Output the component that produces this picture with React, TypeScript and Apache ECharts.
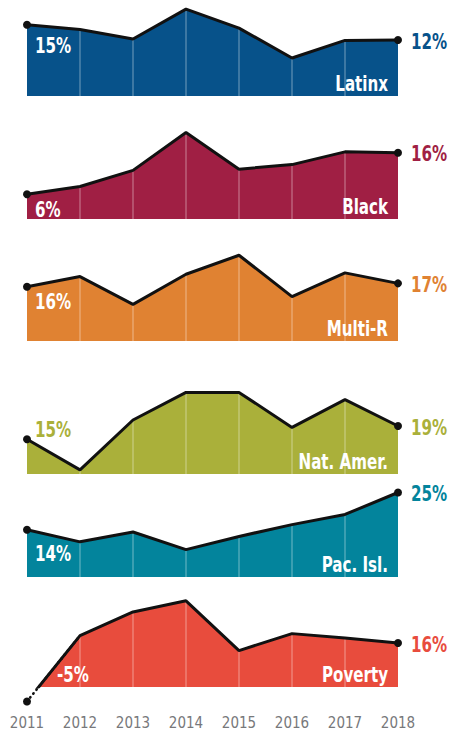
import React, { useEffect, useRef } from 'react';
import * as echarts from 'echarts';

const years = ['2011', '2012', '2013', '2014', '2015', '2016', '2017', '2018'];
const latinx = [15, 14, 12, 18.3, 14.3, 8, 11.7, 11.8];
const black = [6, 7.9, 11.8, 21, 12.1, 13.2, 16.3, 16.1];
const multiR = [16, 19, 10.8, 19.7, 25.3, 13.1, 20.1, 17];
const natAmer = [14.5, 1.7, 22.5, 34, 34, 19.4, 31, 20];
const pacIsl = [14, 10.4, 13.3, 8.1, 12, 15.5, 18.5, 25];
const poverty = [-5.2, 18.5, 27, 31, 13.1, 19.2, 17.6, 15.8];
const names = ['Latinx', 'Black', 'Multi-R', 'Nat. Amer.', 'Pac. Isl.', 'Poverty'];
const startLabels = ['15%', '6%', '16%', '15%', '14%', '-5%'];
const endLabels = ['12%', '16%', '17%', '19%', '25%', '16%'];
const seriesValues = [latinx, black, multiR, natAmer, pacIsl, poverty];

// layout / style
const colors = ['#07528a', '#a01f44', '#e08232', '#aab03a', '#03849c', '#e84c3d'];
const baselines = [96, 219, 341, 474, 577, 687];
const scales = [4.75, 4.12, 3.39, 2.4, 3.38, 2.78];
const startOffsets = [[8, 21], [8, 15], [8, 15], [8, -10], [8, 24], [30, -27]];
const startInside = [true, true, true, false, true, true];
const LEFT = 27;
const RIGHT = 63;
const H = 92;
const FONT = '"DejaVu Sans Condensed", "Liberation Sans Narrow", sans-serif';
const SQUEEZE = 0.8;

export default function App() {
  const ref = useRef<HTMLDivElement>(null);
  useEffect(() => {
    if (!ref.current) return;
    const chart = echarts.init(ref.current, undefined, { renderer: 'svg' });
    const grids: any[] = [];
    const xAxes: any[] = [];
    const yAxes: any[] = [];
    const series: any[] = [];
    const n = years.length;
    const endsOnly = (vals: number[]) =>
      vals.map((v, j) => (j === 0 || j === n - 1 ? { value: v, symbol: 'circle' } : { value: v, symbol: 'none' }));

    seriesValues.forEach((vals, i) => {
      grids.push({ left: LEFT, right: RIGHT, top: baselines[i] - H, height: H, outerBoundsMode: 'none' });
      xAxes.push({ type: 'category', gridIndex: i, data: years, boundaryGap: false, show: false });
      yAxes.push({ type: 'value', gridIndex: i, min: 0, max: H / scales[i], show: false });
      const isPov = i === 5;
      // area
      series.push({
        type: 'line',
        xAxisIndex: i,
        yAxisIndex: i,
        data: vals,
        symbol: 'none',
        lineStyle: { width: 0 },
        areaStyle: { color: colors[i], opacity: 1 },
        clip: true,
        silent: true,
        z: 1,
      });
      // vertical light lines
      series.push({
        type: 'bar',
        xAxisIndex: i,
        yAxisIndex: i,
        data: vals.map((v, j) => (j === 0 || j === n - 1 ? '-' : v)),
        barWidth: 2,
        itemStyle: { color: 'rgba(255,255,255,0.22)' },
        silent: true,
        z: 2,
      });
      // black line
      series.push({
        type: 'line',
        xAxisIndex: i,
        yAxisIndex: i,
        data: isPov ? vals : endsOnly(vals),
        symbol: 'none',
        symbolSize: 8,
        itemStyle: { color: '#111' },
        lineStyle: { color: '#111', width: 3 },
        clip: isPov,
        silent: true,
        z: 4,
      });
    });

    // extra grid for poverty dotted extension (below zero), end dots & x axis labels
    const pi = 5;
    const yMinP = -6;
    grids.push({
      left: LEFT,
      right: RIGHT,
      top: baselines[pi] - H,
      height: H - yMinP * scales[pi],
      outerBoundsMode: 'none',
    });
    xAxes.push({
      type: 'category',
      gridIndex: 6,
      data: years,
      boundaryGap: false,
      axisLine: { show: false },
      axisTick: { show: false },
      splitLine: { show: false },
      axisLabel: { color: '#77787b', fontFamily: FONT, fontSize: 15, lineHeight: 14, margin: 12 },
    });
    yAxes.push({ type: 'value', gridIndex: 6, min: yMinP, max: H / scales[pi], show: false });
    series.push({
      type: 'line',
      xAxisIndex: 6,
      yAxisIndex: 6,
      data: poverty.map((v, j) => {
        if (j === 0 || j === n - 1) return { value: v, symbol: 'circle' };
        if (j === 1) return { value: v, symbol: 'none' };
        return '-';
      }),
      symbolSize: 8,
      itemStyle: { color: '#111' },
      lineStyle: { color: '#111', width: 2.6, type: [0.5, 4.5], cap: 'round' },
      clip: false,
      silent: true,
      z: 3,
    });

    chart.setOption({
      animation: false,
      grid: grids,
      xAxis: xAxes,
      yAxis: yAxes,
      series,
    });

    // text annotations, placed through the chart's own coordinate system
    const graphics: any[] = [];
    const txt = (text: string, x: number, y: number, fill: string, align: string) => ({
      type: 'text',
      x,
      y,
      scaleX: SQUEEZE,
      z: 10,
      silent: true,
      style: {
        text,
        fill,
        font: `bold 21px ${FONT}`,
        align,
        verticalAlign: 'middle',
        textAlign: align,
        textVerticalAlign: 'middle',
      },
    });
    seriesValues.forEach((vals, i) => {
      const gi = i === 5 ? 6 : i;
      const p0 = chart.convertToPixel({ gridIndex: gi }, [0, vals[0]]) as number[];
      const p1 = chart.convertToPixel({ gridIndex: gi }, [n - 1, vals[n - 1]]) as number[];
      graphics.push(
        txt(
          startLabels[i],
          p0[0] + startOffsets[i][0],
          p0[1] + startOffsets[i][1],
          startInside[i] ? '#ffffff' : colors[i],
          'left'
        )
      );
      graphics.push(txt(endLabels[i], p1[0] + 13, p1[1] + 1, colors[i], 'left'));
      const pb = chart.convertToPixel({ gridIndex: gi }, [n - 1, 0]) as number[];
      graphics.push(txt(names[i], pb[0] - 10, pb[1] - 13, '#ffffff', 'right'));
    });
    chart.setOption({ graphic: graphics });
    return () => chart.dispose();
  }, []);
  return (
    <div
      ref={ref}
      style={{ position: 'absolute', left: 0, top: 0, width: 461, height: 732 }}
    />
  );
}
